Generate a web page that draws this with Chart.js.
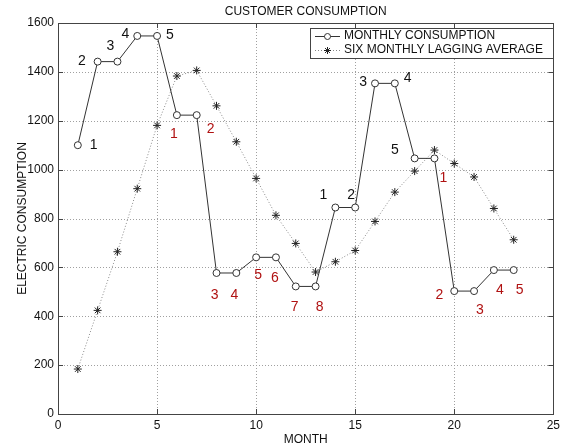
<!DOCTYPE html>
<html lang="en">
<head>
    <meta charset="UTF-8">
    <title>Customer Consumption</title>
    <script src="https://cdn.jsdelivr.net/npm/chart.js@4"></script>
    <style>
        body { margin: 0; background: #fff; }
        #wrap { width: 564px; height: 447px; }
    </style>
</head>
<body>
    <div id="wrap"><canvas id="chart" width="564" height="447"></canvas></div>

    <script>
        // months and series
        const months = [1, 2, 3, 4, 5, 6, 7, 8, 9, 10, 11, 12, 13, 14, 15, 16, 17, 18, 19, 20, 21, 22, 23];
        const monthly = [1100, 1442, 1442, 1547, 1547, 1223, 1223, 577, 577, 641, 641, 522, 522,
                         845, 845, 1353, 1353, 1046, 1046, 503, 503, 589, 589];
        const lagging = [184, 424, 664, 922, 1181, 1383, 1406, 1261, 1114, 964, 813, 698, 581,
                         623, 669, 788, 908, 994, 1080, 1025, 970, 841, 713];

        // number labels next to the points (x, y in data units)
        const noteX = [1.8, 1.2, 2.65, 3.4, 5.65, 5.85, 7.7, 7.9, 8.9, 10.1, 10.95, 11.95, 13.2,
                       13.4, 14.8, 15.4, 17.65, 17.0, 19.45, 19.25, 21.3, 22.3, 23.3];
        const noteY = [1100, 1445, 1505, 1553, 1552, 1146, 1165, 487, 487, 570, 554, 438, 438,
                       897, 897, 1360, 1373, 1080, 967, 487, 424, 505, 505];
        const noteText = ['1', '2', '3', '4', '5', '1', '2', '3', '4', '5', '6', '7', '8',
                          '1', '2', '3', '4', '5', '1', '2', '3', '4', '5'];
        const noteRed = [0, 0, 0, 0, 0, 1, 1, 1, 1, 1, 1, 1, 1,
                         0, 0, 0, 0, 0, 1, 1, 1, 1, 1];

        const xTicks = [0, 5, 10, 15, 20, 25];
        const yTicks = [0, 200, 400, 600, 800, 1000, 1200, 1400, 1600];

        const FONT = 'Arial, "Liberation Sans", sans-serif';

        // 点線のグリッド（データより下に描く）
        const dottedGrid = {
            id: 'dottedGrid',
            beforeDatasetsDraw(chart) {
                const ctx = chart.ctx;
                const a = chart.chartArea;
                const xs = chart.scales.x, ys = chart.scales.y;
                ctx.save();
                ctx.strokeStyle = '#a0a0a0';
                ctx.lineWidth = 1;
                ctx.setLineDash([1, 2]);
                ctx.beginPath();
                xTicks.slice(1, -1).forEach(v => {
                    const px = Math.round(xs.getPixelForValue(v)) + 0.5;
                    ctx.moveTo(px, a.top); ctx.lineTo(px, a.bottom);
                });
                yTicks.slice(1, -1).forEach(v => {
                    const py = Math.round(ys.getPixelForValue(v)) + 0.5;
                    ctx.moveTo(a.left, py); ctx.lineTo(a.right, py);
                });
                ctx.stroke();
                ctx.restore();
            }
        };

        // 枠線・内向きの目盛り・数字ラベル・凡例・タイトル
        const decor = {
            id: 'decor',
            afterDatasetsDraw(chart) {
                const ctx = chart.ctx;
                const a = chart.chartArea;
                const xs = chart.scales.x, ys = chart.scales.y;
                ctx.save();

                // title, centred over the plot area
                ctx.font = '12px ' + FONT;
                ctx.fillStyle = '#111';
                ctx.textAlign = 'center';
                ctx.textBaseline = 'middle';
                ctx.fillText('CUSTOMER CONSUMPTION', (a.left + a.right) / 2, 12);

                // frame
                ctx.strokeStyle = '#444';
                ctx.lineWidth = 1;
                ctx.strokeRect(Math.round(a.left) + 0.5, Math.round(a.top) + 0.5,
                    Math.round(a.right - a.left), Math.round(a.bottom - a.top));

                // inward ticks
                ctx.beginPath();
                xTicks.forEach(v => {
                    const px = Math.round(xs.getPixelForValue(v)) + 0.5;
                    ctx.moveTo(px, a.bottom); ctx.lineTo(px, a.bottom - 5);
                    ctx.moveTo(px, a.top); ctx.lineTo(px, a.top + 5);
                });
                yTicks.forEach(v => {
                    const py = Math.round(ys.getPixelForValue(v)) + 0.5;
                    ctx.moveTo(a.left, py); ctx.lineTo(a.left + 5, py);
                    ctx.moveTo(a.right, py); ctx.lineTo(a.right - 5, py);
                });
                ctx.stroke();

                // number labels
                ctx.font = '14px ' + FONT;
                for (let i = 0; i < noteText.length; i++) {
                    ctx.fillStyle = noteRed[i] ? '#b01212' : '#111';
                    ctx.fillText(noteText[i], xs.getPixelForValue(noteX[i]), ys.getPixelForValue(noteY[i]));
                }

                // legend box
                const lx = 310, ly = 28, lw = Math.round(a.right) - 310, lh = 30;
                ctx.fillStyle = '#fff';
                ctx.fillRect(lx, ly, lw, lh);
                ctx.strokeStyle = '#444';
                ctx.strokeRect(lx + 0.5, ly + 0.5, lw, lh);

                ctx.font = '12px ' + FONT;
                ctx.textAlign = 'left';
                ctx.fillStyle = '#111';
                ctx.fillText('MONTHLY CONSUMPTION', 344, 36);
                ctx.fillText('SIX MONTHLY LAGGING AVERAGE', 344, 50);

                // sample: solid line with circle
                ctx.strokeStyle = '#333';
                ctx.beginPath(); ctx.moveTo(315, 36.5); ctx.lineTo(340, 36.5); ctx.stroke();
                ctx.beginPath(); ctx.arc(327.5, 36.5, 3, 0, Math.PI * 2);
                ctx.fillStyle = '#fff'; ctx.fill(); ctx.stroke();

                // sample: dotted line with star
                ctx.strokeStyle = '#888';
                ctx.setLineDash([1, 2]);
                ctx.beginPath(); ctx.moveTo(315, 50.5); ctx.lineTo(340, 50.5); ctx.stroke();
                ctx.setLineDash([]);
                ctx.strokeStyle = '#222';
                const cx = 327.5, cy = 50.5, r = 3.5;
                ctx.beginPath();
                ctx.moveTo(cx - r, cy); ctx.lineTo(cx + r, cy);
                ctx.moveTo(cx, cy - r); ctx.lineTo(cx, cy + r);
                ctx.moveTo(cx - r * 0.7, cy - r * 0.7); ctx.lineTo(cx + r * 0.7, cy + r * 0.7);
                ctx.moveTo(cx - r * 0.7, cy + r * 0.7); ctx.lineTo(cx + r * 0.7, cy - r * 0.7);
                ctx.stroke();

                ctx.restore();
            }
        };

        new Chart(document.getElementById('chart').getContext('2d'), {
            type: 'line',
            data: {
                datasets: [
                    {
                        label: 'MONTHLY CONSUMPTION',
                        data: months.map((m, i) => ({ x: m, y: monthly[i] })),
                        borderColor: '#333',
                        borderWidth: 1,
                        pointStyle: 'circle',
                        pointRadius: 3.5,
                        pointBorderColor: '#333',
                        pointBackgroundColor: '#fff',
                        pointBorderWidth: 1,
                        tension: 0
                    },
                    {
                        label: 'SIX MONTHLY LAGGING AVERAGE',
                        data: months.map((m, i) => ({ x: m, y: lagging[i] })),
                        borderColor: '#8a8a8a',
                        borderWidth: 1,
                        borderDash: [1, 2],
                        pointStyle: 'star',
                        pointRadius: 4,
                        pointBorderColor: '#222',
                        pointBorderWidth: 1,
                        tension: 0
                    }
                ]
            },
            options: {
                responsive: false,
                animation: false,
                layout: { padding: { top: 23, right: 9 } },
                plugins: {
                    legend: { display: false },
                    tooltip: { enabled: false },
                    title: { display: false }
                },
                scales: {
                    x: {
                        type: 'linear',
                        min: 0,
                        max: 25,
                        afterBuildTicks: s => { s.ticks = xTicks.map(v => ({ value: v })); },
                        afterFit: s => { s.height = 33; },
                        grid: { display: false, drawTicks: false },
                        border: { display: false },
                        ticks: {
                            color: '#111',
                            font: { family: FONT, size: 12 },
                            padding: 4,
                            maxRotation: 0,
                            callback: v => String(v)
                        },
                        title: {
                            display: true,
                            text: 'MONTH',
                            color: '#111',
                            font: { family: FONT, size: 12 },
                            padding: { top: 0, bottom: 0 }
                        }
                    },
                    y: {
                        min: 0,
                        max: 1600,
                        afterBuildTicks: s => { s.ticks = yTicks.map(v => ({ value: v })); },
                        afterFit: s => { s.width = 58; },
                        grid: { display: false, drawTicks: false },
                        border: { display: false },
                        ticks: {
                            color: '#111',
                            font: { family: FONT, size: 12 },
                            padding: 4,
                            callback: v => String(v)
                        },
                        title: {
                            display: true,
                            text: 'ELECTRIC CONSUMPTION',
                            color: '#111',
                            font: { family: FONT, size: 12 },
                            padding: { top: 15, bottom: 0 }
                        }
                    }
                }
            },
            plugins: [dottedGrid, decor]
        });
    </script>
</body>
</html>
